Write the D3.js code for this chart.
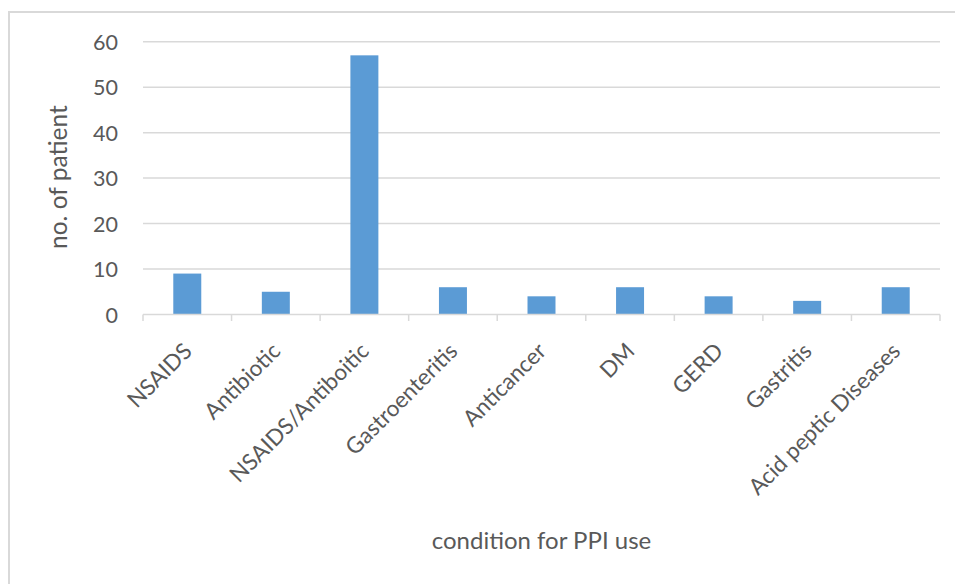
<!DOCTYPE html>
<html>
<head>
<meta charset="utf-8">
<script src="https://cdn.jsdelivr.net/npm/d3@7/dist/d3.min.js"></script>
<style>
  html, body { margin: 0; padding: 0; background: #fff; }
  svg { display: block; }
  text { font-family: Lato, "Open Sans", sans-serif; fill: #595959; }
</style>
</head>
<body>
<svg id="chart" width="955" height="584"></svg>
<script>
// Conditions for which PPIs were used, with patient counts
const categories = ["NSAIDS", "Antibiotic", "NSAIDS/Antiboitic", "Gastroenteritis",
  "Anticancer", "DM", "GERD", "Gastritis", "Acid peptic Diseases"];
const patients = [9, 5, 57, 6, 4, 6, 4, 3, 6];
const yTicks = [0, 10, 20, 30, 40, 50, 60];
const xTitle = "condition for PPI use";
const yTitle = "no. of patient";

const svg = d3.select("#chart");
const plot = { left: 143, right: 940, top: 41.7, bottom: 314.5 };

// chart area frame
svg.append("rect")
  .attr("x", 9).attr("y", 12)
  .attr("width", 960).attr("height", 600)
  .attr("fill", "#fff").attr("stroke", "#d9d9d9").attr("stroke-width", 2);

const x = d3.scaleBand()
  .domain(categories)
  .range([plot.left, plot.right])
  .paddingInner(0.684)
  .paddingOuter(0.342);

const y = d3.scaleLinear()
  .domain([0, 60])
  .range([plot.bottom, plot.top]);

// horizontal gridlines
svg.append("g").selectAll("line")
  .data(yTicks.filter(d => d > 0))
  .join("line")
  .attr("x1", plot.left).attr("x2", plot.right)
  .attr("y1", d => y(d)).attr("y2", d => y(d))
  .attr("stroke", "#d9d9d9").attr("stroke-width", 1.5);

// y tick labels
const yAxis = d3.axisLeft(y).tickValues(yTicks).tickSize(0).tickPadding(0);
const gy = svg.append("g")
  .attr("transform", `translate(${plot.left - 25},0)`)
  .call(yAxis);
gy.select(".domain").remove();
gy.selectAll("text")
  .attr("font-family", "Lato, 'Open Sans', sans-serif")
  .attr("font-size", 21.5)
  .attr("fill", "#595959")
  .attr("dy", "0.35em");

// bars
svg.append("g").selectAll("rect")
  .data(categories.map((c, i) => ({ c, v: patients[i] })))
  .join("rect")
  .attr("x", d => x(d.c))
  .attr("width", x.bandwidth())
  .attr("y", d => y(d.v))
  .attr("height", d => y(0) - y(d.v))
  .attr("fill", "#5b9bd5");

// x axis line and boundary ticks
const step = x.step();
const boundaries = d3.range(categories.length + 1).map(i => plot.left + i * step);
const gx = svg.append("g");
gx.append("line")
  .attr("x1", plot.left).attr("x2", plot.right)
  .attr("y1", y(0)).attr("y2", y(0))
  .attr("stroke", "#d9d9d9").attr("stroke-width", 1.5);
gx.selectAll("line.tick")
  .data(boundaries)
  .join("line")
  .attr("class", "tick")
  .attr("x1", d => d).attr("x2", d => d)
  .attr("y1", y(0)).attr("y2", y(0) + 6.5)
  .attr("stroke", "#d9d9d9").attr("stroke-width", 1.5);

// rotated category labels
gx.selectAll("text")
  .data(categories)
  .join("text")
  .attr("transform", d => `translate(${x(d) + x.bandwidth() / 2 + 6},${y(0) + 38}) rotate(-45)`)
  .attr("text-anchor", "end")
  .attr("font-size", 22.5)
  .text(d => d);

// axis titles
svg.append("text")
  .attr("x", (plot.left + plot.right) / 2).attr("y", 549)
  .attr("text-anchor", "middle")
  .attr("font-size", 24)
  .text(xTitle);

svg.append("text")
  .attr("transform", `translate(67,${(plot.top + plot.bottom) / 2 - 1}) rotate(-90)`)
  .attr("text-anchor", "middle")
  .attr("font-size", 24.5)
  .text(yTitle);
</script>
</body>
</html>
